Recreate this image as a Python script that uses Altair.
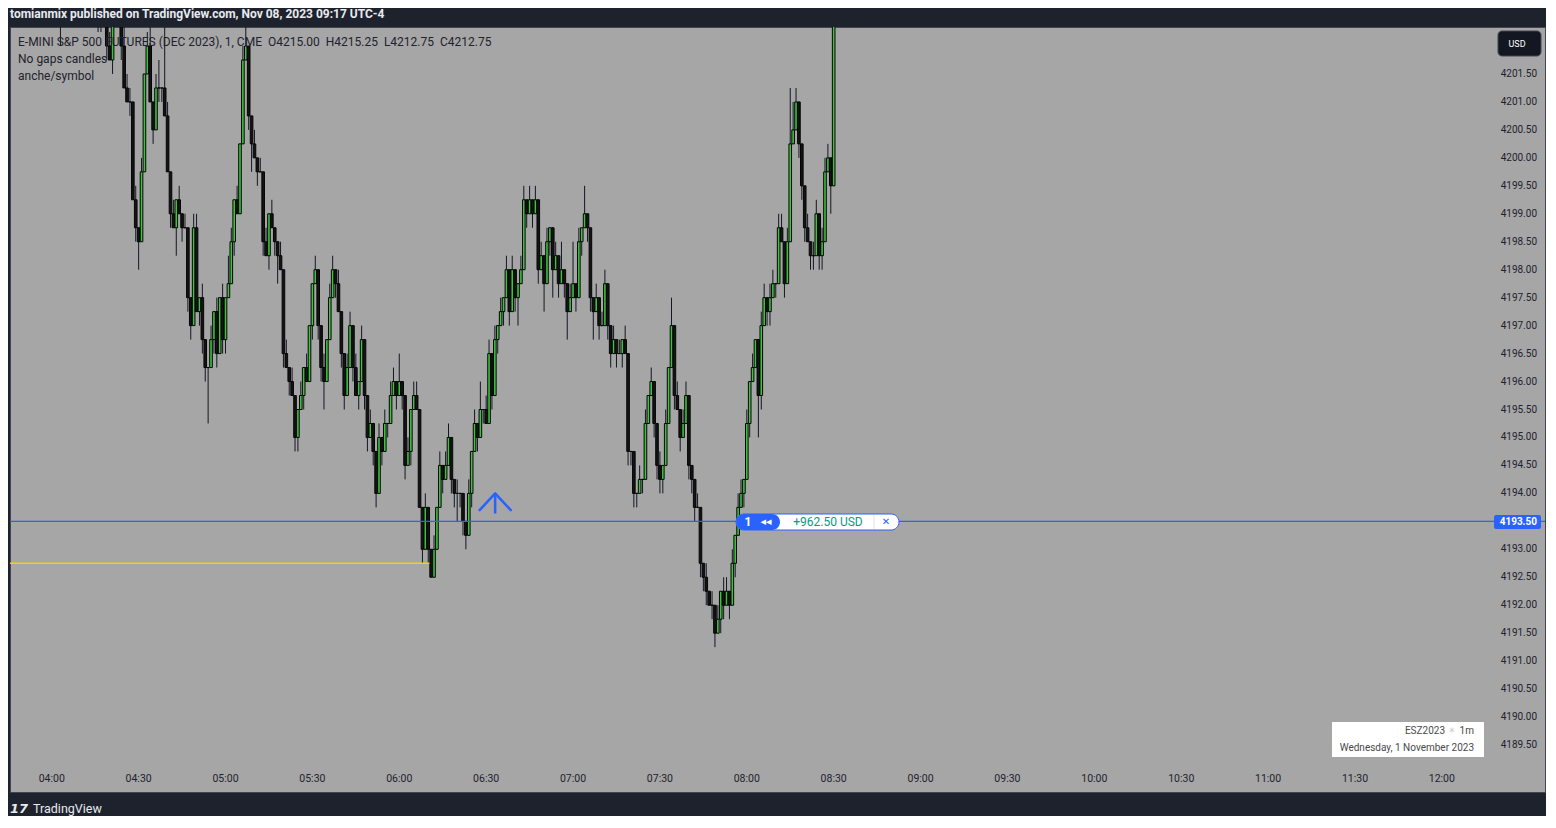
import altair as alt
import pandas as pd

# ---------------- data (1-minute candles, minutes after 04:00) ----------------
OPEN0 = 4206.5
CLOSE = [
    4206.0, 4205.5, 4204.75, 4203.5, 4204.25, 4205.0, 4205.75, 4206.5, 4206.0, 4205.25,
    4205.0, 4204.5, 4204.75, 4204.0, 4203.75, 4204.25, 4203.5, 4203.0, 4203.25, 4202.0,
    4201.75, 4202.75, 4203.0, 4203.25, 4202.0, 4201.25, 4201.0, 4201.0, 4199.25, 4198.75,
    4198.5, 4199.75, 4201.5, 4202.0, 4201.0, 4200.5, 4201.25, 4201.25, 4201.25, 4200.75,
    4199.75, 4199.0, 4198.75, 4199.25, 4199.0, 4198.75, 4198.75, 4197.5, 4197.0, 4198.75,
    4197.25, 4197.5, 4196.75, 4196.25, 4196.25, 4196.75, 4197.25, 4196.5, 4197.5, 4196.75,
    4197.5, 4197.75, 4198.5, 4199.25, 4199.0, 4200.25, 4201.75, 4202.0, 4200.75, 4200.25,
    4200.0, 4199.75, 4199.75, 4198.5, 4198.25, 4199.0, 4198.75, 4198.5, 4198.25, 4198.0,
    4196.5, 4196.25, 4196.0, 4195.75, 4195.0, 4195.5, 4195.75, 4196.25, 4196.0, 4197.0,
    4197.75, 4198.0, 4197.0, 4196.25, 4196.0, 4196.75, 4197.5, 4198.0, 4197.75, 4197.25,
    4196.5, 4195.75, 4196.25, 4197.0, 4196.25, 4195.75, 4196.0, 4196.75, 4195.75, 4195.0,
    4195.25, 4194.75, 4194.0, 4195.0, 4194.75, 4195.25, 4195.25, 4195.75, 4196.0, 4195.75,
    4196.0, 4195.75, 4194.5, 4194.75, 4195.5, 4195.75, 4195.5, 4193.75, 4193.0, 4193.75,
    4193.0, 4192.5, 4193.0, 4193.75, 4194.5, 4194.25, 4194.5, 4195.0, 4194.25, 4194.0,
    4194.0, 4194.0, 4193.5, 4193.25, 4194.0, 4194.75, 4195.25, 4195.0, 4195.5, 4195.5,
    4195.25, 4196.5, 4195.75, 4196.75, 4197.0, 4197.25, 4197.5, 4198.0, 4197.25, 4198.0,
    4197.5, 4197.75, 4198.0, 4199.25, 4199.0, 4199.25, 4199.0, 4199.25, 4198.0, 4198.25,
    4197.75, 4198.5, 4198.75, 4198.0, 4198.25, 4197.75, 4198.0, 4197.75, 4197.25, 4197.5,
    4197.75, 4197.5, 4198.5, 4198.75, 4199.0, 4198.75, 4197.5, 4197.25, 4197.5, 4197.0,
    4197.0, 4197.75, 4197.0, 4196.5, 4196.75, 4196.5, 4196.5, 4196.75, 4196.5, 4194.75,
    4194.75, 4194.0, 4194.0, 4194.25, 4194.25, 4195.25, 4195.75, 4196.0, 4195.25, 4194.5,
    4194.25, 4194.5, 4195.25, 4196.25, 4197.0, 4195.75, 4195.5, 4195.0, 4195.25, 4195.75,
    4194.5, 4194.25, 4193.75, 4193.75, 4192.75, 4192.5, 4192.25, 4192.0, 4192.0, 4191.5,
    4191.75, 4192.25, 4192.0, 4192.25, 4192.0, 4192.75, 4193.25, 4193.75, 4194.0, 4194.25,
    4195.25, 4196.0, 4196.25, 4196.75, 4195.75, 4197.0, 4197.5, 4197.25, 4197.5, 4197.75,
    4197.75, 4198.75, 4198.5, 4197.75, 4198.5, 4200.25, 4200.5, 4201.0, 4200.25, 4199.5,
    4198.75, 4198.5, 4198.25, 4198.25, 4199.0, 4198.25, 4198.5, 4199.75, 4200.0, 4199.5,
    4205.0,
]
# wick lengths in ticks (0.25) above / below the body
UPPER_WICK = [
    1, 0, 1, 0, 1, 1, 0, 1, 0, 1,  0, 1, 0, 1, 0, 1, 0, 0, 1, 0,
    1, 0, 1, 0, 0, 2, 1, 1, 0, 1,  0, 1, 0, 1, 2, 0, 1, 2, 0, 5,
    1, 0, 1, 0, 1, 0, 1, 0, 0, 1,  1, 0, 1, 0, 0, 1, 0, 1, 0, 1,
    0, 2, 1, 0, 1, 0, 1, 2, 0, 0,  1, 0, 1, 0, 1, 0, 1, 0, 0, 1,
    0, 1, 0, 1, 0, 0, 1, 0, 1, 0,  0, 1, 0, 0, 1, 0, 1, 1, 0, 1,
    0, 0, 1, 1, 0, 1, 0, 1, 0, 0,  1, 0, 0, 1, 0, 1, 0, 1, 1, 0,
    2, 0, 0, 1, 0, 1, 1, 0, 0, 1,  0, 0, 1, 0, 1, 0, 1, 1, 0, 0,
    1, 0, 0, 0, 1, 0, 1, 0, 2, 0,  1, 1, 0, 1, 0, 1, 0, 1, 0, 1,
    0, 0, 1, 1, 0, 1, 0, 1, 0, 1,  0, 1, 0, 0, 1, 0, 2, 0, 0, 1,
    3, 0, 1, 0, 2, 0, 0, 0, 1, 0,  1, 1, 0, 0, 1, 0, 1, 0, 1, 0,
    0, 0, 0, 1, 0, 1, 0, 1, 0, 0,  1, 0, 1, 0, 2, 0, 1, 0, 1, 1,
    0, 0, 0, 1, 0, 0, 1, 0, 1, 0,  1, 0, 1, 1, 0, 1, 0, 1, 1, 0,
    1, 0, 1, 0, 0, 1, 1, 0, 1, 1,  0, 1, 1, 0, 1, 4, 2, 1, 0, 0,
    0, 1, 0, 1, 1, 0, 1, 1, 1, 0,  0,
]
LOWER_WICK = [
    0, 1, 0, 6, 0, 0, 1, 0, 1, 0,  1, 0, 1, 0, 1, 0, 5, 3, 0, 1,
    0, 1, 0, 0, 1, 0, 0, 1, 0, 1,  2, 0, 0, 0, 0, 1, 0, 1, 1, 0,
    0, 1, 0, 2, 0, 1, 0, 1, 1, 0,  0, 1, 1, 1, 4, 0, 1, 1, 0, 1,
    1, 0, 0, 1, 0, 0, 0, 0, 1, 2,  0, 1, 0, 1, 0, 1, 0, 1, 2, 0,
    1, 0, 1, 0, 1, 1, 0, 1, 0, 0,  1, 0, 1, 1, 2, 0, 0, 0, 1, 0,
    1, 1, 0, 0, 1, 0, 1, 0, 1, 1,  0, 1, 1, 0, 1, 0, 1, 0, 0, 1,
    0, 1, 1, 0, 1, 0, 0, 0, 1, 0,  1, 0, 0, 0, 0, 1, 0, 0, 1, 1,
    2, 1, 1, 1, 0, 1, 0, 1, 0, 1,  0, 0, 1, 0, 1, 0, 1, 0, 1, 0,
    1, 2, 0, 0, 1, 0, 1, 0, 1, 0,  2, 0, 1, 2, 0, 1, 0, 1, 2, 0,
    0, 1, 0, 1, 0, 1, 1, 2, 0, 1,  0, 0, 1, 1, 0, 1, 0, 1, 0, 1,
    1, 1, 1, 0, 1, 0, 0, 0, 1, 1,  1, 1, 0, 0, 0, 1, 0, 1, 0, 0,
    1, 1, 1, 0, 1, 1, 1, 0, 1, 1,  0, 1, 1, 0, 1, 0, 1, 0, 0, 1,
    0, 1, 0, 0, 3, 1, 0, 1, 1, 0,  1, 0, 0, 1, 0, 0, 0, 0, 1, 1,
    1, 0, 1, 1, 0, 1, 1, 0, 0, 2,  0,
]
TICK = 0.25

TIME_TICKS = [0, 30, 60, 90, 120, 150, 180, 210, 240, 270, 300, 330, 360, 390, 420, 450, 480]
TIME_LABELS = ["04:00", "04:30", "05:00", "05:30", "06:00", "06:30", "07:00", "07:30", "08:00",
               "08:30", "09:00", "09:30", "10:00", "10:30", "11:00", "11:30", "12:00"]
PRICE_TICKS = [4189.5, 4190.0, 4190.5, 4191.0, 4191.5, 4192.0, 4192.5, 4193.0, 4193.5, 4194.0,
               4194.5, 4195.0, 4195.5, 4196.0, 4196.5, 4197.0, 4197.5, 4198.0, 4198.5, 4199.0,
               4199.5, 4200.0, 4200.5, 4201.0, 4201.5]
PRICE_LABELS = ["4189.50", "4190.00", "4190.50", "4191.00", "4191.50", "4192.00", "4192.50",
                "4193.00", "4193.50", "4194.00", "4194.50", "4195.00", "4195.50", "4196.00",
                "4196.50", "4197.00", "4197.50", "4198.00", "4198.50", "4199.00", "4199.50",
                "4200.00", "4200.50", "4201.00", "4201.50"]

POSITION_PRICE = 4193.5
STOP_PRICE = 4192.75
STOP_START, STOP_END = -30.0, 130.4
ARROW_MIN = [147.75, 153.1, 158.5]
ARROW_PRICE = [4193.70, 4194.0, 4193.70]
ARROW_STEM = [4194.0, 4193.64]

X_DOMAIN = [-12.69, 513.89]
Y_DOMAIN = [4188.66, 4202.34]

# ---------------- build table ----------------
opens = [OPEN0] + CLOSE[:-1]
rows = []
for i, (o, c, u, d) in enumerate(zip(opens, CLOSE, UPPER_WICK, LOWER_WICK)):
    rows.append({
        "minute": i, "open": o, "close": c,
        "high": max(o, c) + u * TICK, "low": min(o, c) - d * TICK,
        "dir": "up" if c >= o else "down",
    })
candles = pd.DataFrame(rows)

xs = alt.Scale(domain=X_DOMAIN, nice=False, zero=False)
ys = alt.Scale(domain=Y_DOMAIN, nice=False, zero=False)
X = lambda f: alt.X(f, type="quantitative", scale=xs, axis=None)
Y = lambda f: alt.Y(f, type="quantitative", scale=ys, axis=None)

FONT = "Roboto"
NB = "\u00a0\u00a0"

wicks = alt.Chart(candles).mark_rule(color="#131722", strokeWidth=1, clip=True).encode(
    x=X("minute"), y=Y("low"), y2="high")
bodies = alt.Chart(candles).mark_bar(width=2.6, stroke="#050505", strokeWidth=1, clip=True).encode(
    x=X("minute"), y=Y("open"), y2="close",
    fill=alt.Fill("dir:N", scale=alt.Scale(domain=["up", "down"], range=["#3cc43c", "#141414"]), legend=None))

stop_df = pd.DataFrame({"a": [STOP_START], "b": [STOP_END], "p": [STOP_PRICE]})
stop_line = alt.Chart(stop_df).mark_rule(color="#f5d400", strokeWidth=1.4, clip=True).encode(
    x=X("a"), x2="b", y=Y("p"))

pos_df = pd.DataFrame({"p": [POSITION_PRICE]})
pos_line = alt.Chart(pos_df).mark_rule(color="#2962ff", strokeWidth=1.3).encode(y=Y("p"))

arrow_df = pd.DataFrame({"m": ARROW_MIN, "p": ARROW_PRICE, "o": [0, 1, 2]})
arrow = alt.Chart(arrow_df).mark_line(color="#2962ff", strokeWidth=2.5, strokeCap="round",
                                      strokeJoin="round").encode(x=X("m"), y=Y("p"), order="o:Q")
stem_df = pd.DataFrame({"m": [ARROW_MIN[1]], "a": [ARROW_STEM[0]], "b": [ARROW_STEM[1]]})
stem = alt.Chart(stem_df).mark_rule(color="#2962ff", strokeWidth=2.5).encode(x=X("m"), y=Y("a"), y2="b")

# axis labels (inside the pane, as on TradingView)
tdf = pd.DataFrame({"m": TIME_TICKS, "t": TIME_LABELS})
time_lbl = alt.Chart(tdf).mark_text(font=FONT, fontSize=10.5, color="#1e222d").encode(
    x=X("m"), y=alt.value(752), text="t:N")
pdf = pd.DataFrame({"p": PRICE_TICKS, "t": PRICE_LABELS})
price_lbl = alt.Chart(pdf).mark_text(font=FONT, fontSize=10, color="#1e222d", align="right").encode(
    x=alt.value(1527), y=Y("p"), text="t:N")

one = pd.DataFrame({"k": [0]})

def box(x1, x2, y1, y2, **kw):
    return alt.Chart(one).mark_rect(**kw).encode(
        x=alt.value(x1), x2=alt.value(x2), y=alt.value(y1), y2=alt.value(y2))

def txt(s, x, y, **kw):
    return alt.Chart(one).mark_text(**kw).encode(x=alt.value(x), y=alt.value(y), text=alt.value(s))

# price tag on the right
tag = box(1484, 1531, 488, 502, fill="#2962ff", cornerRadius=2)
tag_t = txt("4193.50", 1527, 495, font=FONT, fontSize=10, fontWeight="bold", color="white", align="right")

# position pill
pill_w = box(726, 889, 487, 503, fill="white", stroke="#2962ff", strokeWidth=1, cornerRadius=8)
pill_b = box(726, 770, 487, 503, fill="#2962ff", cornerRadius=8)
pill_t1 = txt("1", 738, 495, font=FONT, fontSize=12, fontWeight="bold", color="white")
pill_t2 = txt("◂◂", 756, 495, font="DejaVu Sans", fontSize=11, color="white")
pill_t3 = txt("+962.50 USD", 818, 495, font=FONT, fontSize=12, color="#089981")
pill_div = alt.Chart(one).mark_rule(color="#e0e3eb").encode(
    x=alt.value(864), y=alt.value(488), y2=alt.value(502))
pill_x = txt("✕", 876, 495, font="DejaVu Sans", fontSize=10, color="#2962ff")

# USD badge
usd = box(1488, 1531, 4, 29, fill="#131722", stroke="#434651", strokeWidth=1, cornerRadius=4)
usd_t = txt("USD", 1507, 17, font=FONT, fontSize=9, color="white")

# info box
info = box(1322, 1474, 695, 730, fill="white")
info_t1 = txt("1m", 1464, 704, font=FONT, fontSize=10, color="#4a4a4a", align="right")
info_ic = txt("✳", 1442, 704, font="DejaVu Sans", fontSize=8, color="#c0c0c0")
info_t2 = txt("ESZ2023", 1435, 704, font=FONT, fontSize=10, color="#4a4a4a", align="right")
info_t3 = txt("Wednesday, 1 November 2023", 1464, 721, font=FONT, fontSize=10, color="#4a4a4a", align="right")

# legend texts
leg1 = txt("E-MINI S&P 500 FUTURES (DEC 2023), 1, CME" + NB + "O4215.00" + NB + "H4215.25" + NB
           + "L4212.75" + NB + "C4212.75",
           8, 15, font=FONT, fontSize=12, color="#1e222d", align="left")
leg2 = txt("No gaps candles", 8, 32, font=FONT, fontSize=12, color="#1e222d", align="left")
leg3 = txt("anche/symbol", 8, 49, font=FONT, fontSize=12, color="#1e222d", align="left")

# header / footer
header = txt("tomianmix published on TradingView.com, Nov 08, 2023 09:17 UTC-4", 0, -13,
             font=FONT, fontSize=12, fontWeight="bold", color="#e8eaf0", align="left")
logo = txt("17", 0, 782, font="DejaVu Sans", fontSize=13, fontWeight="bold", fontStyle="italic",
           color="#e8eaf0", align="left")
brand = txt("TradingView", 23, 782, font=FONT, fontSize=12.5, color="#e8eaf0", align="left")

chart = alt.layer(
    wicks, bodies, stop_line, pos_line, arrow, stem,
    time_lbl, price_lbl, tag, tag_t,
    pill_w, pill_b, pill_t1, pill_t2, pill_t3, pill_div, pill_x,
    usd, usd_t, info, info_t1, info_ic, info_t2, info_t3,
    leg1, leg2, leg3, header, logo, brand,
).properties(
    width=1535, height=765,
    autosize=alt.AutoSizeParams(type="none"),
    padding={"left": 2, "top": 19, "right": 1, "bottom": 24},
).configure(background="#1e222d").configure_view(fill="#a6a6a6", stroke="#434651", strokeWidth=1)

chart.save("out.html", embed_options={"renderer": "svg", "actions": False})
